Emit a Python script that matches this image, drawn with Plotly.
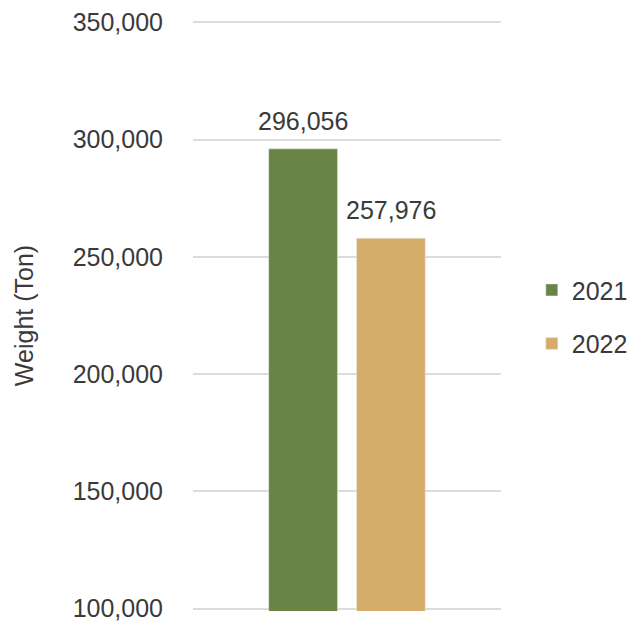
import plotly.graph_objects as go

categories = ["Total"]
years = ["2021", "2022"]
values_2021 = [296056]
values_2022 = [257976]
colors = ["#6a8347", "#d4ad6a"]
y_ticks = [100000, 150000, 200000, 250000, 300000, 350000]

FONT = "Liberation Sans, Arial, sans-serif"
TXT = "#3a3a3a"
FS = 25

W, H = 627, 622
ML, MR, MT, MB = 193, 126, 20, 11
BARGAP, GROUPGAP = 0.43, 0.216
plot_w = W - ML - MR
slot = plot_w * (1 - BARGAP) / len(years)

fig = go.Figure()
series = [values_2021, values_2022]
for i, (name, vals, col) in enumerate(zip(years, series, colors)):
    fig.add_trace(go.Bar(
        x=categories, y=vals, name=name, marker_color=col,
        legendgroup=name, hoverinfo="y",
    ))
    for c, v in zip(categories, vals):
        fig.add_annotation(
            x=c, y=v, text=f"{v:,}", showarrow=False,
            xanchor="center", yanchor="bottom", yshift=12,
            xshift=(i - (len(years) - 1) / 2) * slot,
            font=dict(family=FONT, size=FS, color=TXT),
        )

fig.update_layout(
    width=W, height=H,
    margin=dict(l=ML, r=MR, t=MT, b=MB, autoexpand=False),
    paper_bgcolor="white", plot_bgcolor="white",
    barmode="group", bargap=BARGAP, bargroupgap=GROUPGAP,
    font=dict(family=FONT, size=FS, color=TXT),
    legend=dict(x=1.1, y=0.498, xanchor="left", yanchor="middle",
                font=dict(size=FS, color=TXT), tracegroupgap=18,
                itemwidth=30),
    showlegend=True,
)
fig.update_yaxes(
    range=[99000, 351000], tickvals=y_ticks,
    ticktext=[f"{v:,}" for v in y_ticks],
    showgrid=True, gridcolor="#dcdcdc", gridwidth=2,
    zeroline=False, showline=False, ticks="",
    ticklabelstandoff=29, automargin=False, ticklabeloverflow="allow",
    title=dict(text="Weight (Ton)", standoff=31, font=dict(size=FS, color=TXT)),
)
fig.update_xaxes(type="category", range=[-0.5, 0.5], showticklabels=False,
                 showgrid=False, zeroline=False, showline=False, ticks="")

fig.write_html("out.html")
